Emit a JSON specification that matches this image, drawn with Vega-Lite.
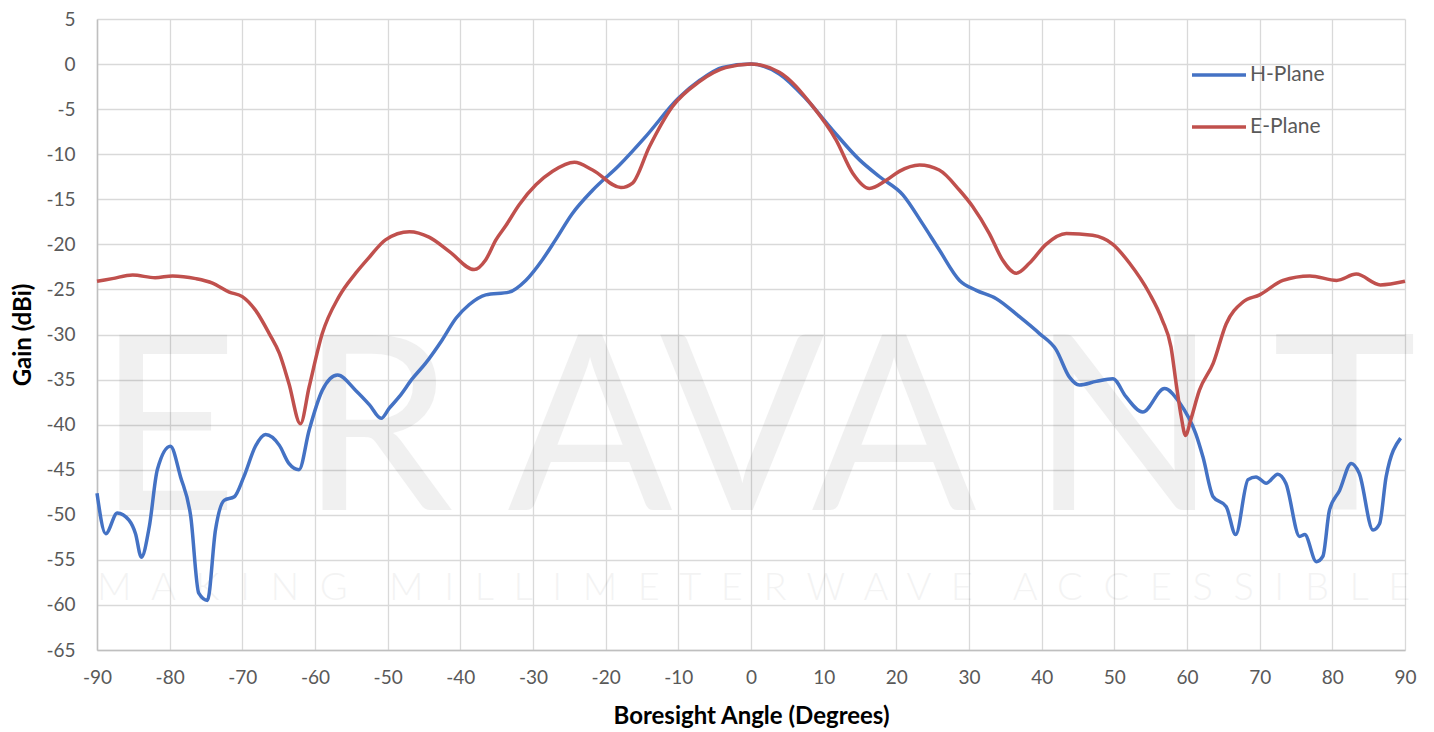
{
  "$schema": "https://vega.github.io/schema/vega-lite/v6.json",
  "width": 1308,
  "height": 631,
  "autosize": {"type": "none"},
  "padding": {"left": 97, "top": 19, "right": 29, "bottom": 82},
  "background": "white",
  "config": {"view": {"stroke": null}, "font": "Lato"},
  "datasets": {
    "gain": [
      {"angle": -90, "gain": -47.6, "plane": "H-Plane"},
      {"angle": -88.8, "gain": -52.1, "plane": "H-Plane"},
      {"angle": -87.2, "gain": -49.8, "plane": "H-Plane"},
      {"angle": -85.6, "gain": -50.6, "plane": "H-Plane"},
      {"angle": -84.7, "gain": -52.1, "plane": "H-Plane"},
      {"angle": -83.9, "gain": -54.7, "plane": "H-Plane"},
      {"angle": -82.8, "gain": -51.3, "plane": "H-Plane"},
      {"angle": -81.7, "gain": -45.0, "plane": "H-Plane"},
      {"angle": -79.9, "gain": -42.4, "plane": "H-Plane"},
      {"angle": -78.5, "gain": -45.8, "plane": "H-Plane"},
      {"angle": -77.1, "gain": -50.2, "plane": "H-Plane"},
      {"angle": -76.0, "gain": -58.7, "plane": "H-Plane"},
      {"angle": -74.8, "gain": -59.5, "plane": "H-Plane"},
      {"angle": -73.7, "gain": -51.7, "plane": "H-Plane"},
      {"angle": -72.5, "gain": -48.4, "plane": "H-Plane"},
      {"angle": -71.1, "gain": -48.0, "plane": "H-Plane"},
      {"angle": -69.8, "gain": -45.8, "plane": "H-Plane"},
      {"angle": -68.2, "gain": -42.4, "plane": "H-Plane"},
      {"angle": -66.8, "gain": -41.1, "plane": "H-Plane"},
      {"angle": -64.9, "gain": -42.3, "plane": "H-Plane"},
      {"angle": -63.6, "gain": -44.3, "plane": "H-Plane"},
      {"angle": -62.2, "gain": -45.0, "plane": "H-Plane"},
      {"angle": -60.8, "gain": -40.6, "plane": "H-Plane"},
      {"angle": -59.0, "gain": -36.2, "plane": "H-Plane"},
      {"angle": -56.9, "gain": -34.5, "plane": "H-Plane"},
      {"angle": -54.4, "gain": -36.2, "plane": "H-Plane"},
      {"angle": -52.5, "gain": -37.8, "plane": "H-Plane"},
      {"angle": -50.9, "gain": -39.3, "plane": "H-Plane"},
      {"angle": -49.8, "gain": -38.2, "plane": "H-Plane"},
      {"angle": -48.4, "gain": -36.9, "plane": "H-Plane"},
      {"angle": -46.6, "gain": -34.9, "plane": "H-Plane"},
      {"angle": -44.8, "gain": -33.2, "plane": "H-Plane"},
      {"angle": -42.5, "gain": -30.6, "plane": "H-Plane"},
      {"angle": -40.6, "gain": -28.2, "plane": "H-Plane"},
      {"angle": -38.8, "gain": -26.7, "plane": "H-Plane"},
      {"angle": -36.5, "gain": -25.6, "plane": "H-Plane"},
      {"angle": -33.3, "gain": -25.3, "plane": "H-Plane"},
      {"angle": -31.0, "gain": -24.0, "plane": "H-Plane"},
      {"angle": -28.7, "gain": -21.7, "plane": "H-Plane"},
      {"angle": -26.9, "gain": -19.5, "plane": "H-Plane"},
      {"angle": -24.6, "gain": -16.6, "plane": "H-Plane"},
      {"angle": -21.8, "gain": -14.0, "plane": "H-Plane"},
      {"angle": -18.1, "gain": -11.2, "plane": "H-Plane"},
      {"angle": -14.5, "gain": -8.05, "plane": "H-Plane"},
      {"angle": -10.0, "gain": -3.8, "plane": "H-Plane"},
      {"angle": -7.0, "gain": -1.77, "plane": "H-Plane"},
      {"angle": -3.9, "gain": -0.37, "plane": "H-Plane"},
      {"angle": 0, "gain": 0, "plane": "H-Plane"},
      {"angle": 3.9, "gain": -1.1, "plane": "H-Plane"},
      {"angle": 7.5, "gain": -3.8, "plane": "H-Plane"},
      {"angle": 11.2, "gain": -7.3, "plane": "H-Plane"},
      {"angle": 14.9, "gain": -10.6, "plane": "H-Plane"},
      {"angle": 17.7, "gain": -12.5, "plane": "H-Plane"},
      {"angle": 20.9, "gain": -14.5, "plane": "H-Plane"},
      {"angle": 23.6, "gain": -17.7, "plane": "H-Plane"},
      {"angle": 25.9, "gain": -20.6, "plane": "H-Plane"},
      {"angle": 28.7, "gain": -24.0, "plane": "H-Plane"},
      {"angle": 31.0, "gain": -25.1, "plane": "H-Plane"},
      {"angle": 33.7, "gain": -26.0, "plane": "H-Plane"},
      {"angle": 36.9, "gain": -28.0, "plane": "H-Plane"},
      {"angle": 39.7, "gain": -29.9, "plane": "H-Plane"},
      {"angle": 42.0, "gain": -31.7, "plane": "H-Plane"},
      {"angle": 43.8, "gain": -34.7, "plane": "H-Plane"},
      {"angle": 45.2, "gain": -35.6, "plane": "H-Plane"},
      {"angle": 47.5, "gain": -35.2, "plane": "H-Plane"},
      {"angle": 49.8, "gain": -34.9, "plane": "H-Plane"},
      {"angle": 51.6, "gain": -36.9, "plane": "H-Plane"},
      {"angle": 53.9, "gain": -38.6, "plane": "H-Plane"},
      {"angle": 56.9, "gain": -36.0, "plane": "H-Plane"},
      {"angle": 59.0, "gain": -37.6, "plane": "H-Plane"},
      {"angle": 61.2, "gain": -41.0, "plane": "H-Plane"},
      {"angle": 62.2, "gain": -43.6, "plane": "H-Plane"},
      {"angle": 63.6, "gain": -48.0, "plane": "H-Plane"},
      {"angle": 65.4, "gain": -49.1, "plane": "H-Plane"},
      {"angle": 66.7, "gain": -52.2, "plane": "H-Plane"},
      {"angle": 68.4, "gain": -46.1, "plane": "H-Plane"},
      {"angle": 69.5, "gain": -45.8, "plane": "H-Plane"},
      {"angle": 70.9, "gain": -46.5, "plane": "H-Plane"},
      {"angle": 72.5, "gain": -45.5, "plane": "H-Plane"},
      {"angle": 73.6, "gain": -46.5, "plane": "H-Plane"},
      {"angle": 75.5, "gain": -52.4, "plane": "H-Plane"},
      {"angle": 76.2, "gain": -52.2, "plane": "H-Plane"},
      {"angle": 77.8, "gain": -55.2, "plane": "H-Plane"},
      {"angle": 78.7, "gain": -54.6, "plane": "H-Plane"},
      {"angle": 79.6, "gain": -49.5, "plane": "H-Plane"},
      {"angle": 81.0, "gain": -47.3, "plane": "H-Plane"},
      {"angle": 82.6, "gain": -44.3, "plane": "H-Plane"},
      {"angle": 83.7, "gain": -45.4, "plane": "H-Plane"},
      {"angle": 85.6, "gain": -51.7, "plane": "H-Plane"},
      {"angle": 86.5, "gain": -51.0, "plane": "H-Plane"},
      {"angle": 87.4, "gain": -45.8, "plane": "H-Plane"},
      {"angle": 89.4, "gain": -41.5, "plane": "H-Plane"},
      {"angle": -90, "gain": -24.1, "plane": "E-Plane"},
      {"angle": -87.9, "gain": -23.8, "plane": "E-Plane"},
      {"angle": -85.1, "gain": -23.4, "plane": "E-Plane"},
      {"angle": -82.0, "gain": -23.7, "plane": "E-Plane"},
      {"angle": -79.6, "gain": -23.5, "plane": "E-Plane"},
      {"angle": -76.4, "gain": -23.8, "plane": "E-Plane"},
      {"angle": -74.1, "gain": -24.3, "plane": "E-Plane"},
      {"angle": -71.8, "gain": -25.3, "plane": "E-Plane"},
      {"angle": -70.0, "gain": -25.8, "plane": "E-Plane"},
      {"angle": -68.2, "gain": -27.3, "plane": "E-Plane"},
      {"angle": -66.3, "gain": -29.9, "plane": "E-Plane"},
      {"angle": -64.9, "gain": -32.1, "plane": "E-Plane"},
      {"angle": -63.6, "gain": -35.4, "plane": "E-Plane"},
      {"angle": -62.0, "gain": -39.9, "plane": "E-Plane"},
      {"angle": -60.8, "gain": -35.8, "plane": "E-Plane"},
      {"angle": -59.0, "gain": -29.9, "plane": "E-Plane"},
      {"angle": -56.7, "gain": -25.8, "plane": "E-Plane"},
      {"angle": -54.4, "gain": -23.2, "plane": "E-Plane"},
      {"angle": -52.5, "gain": -21.4, "plane": "E-Plane"},
      {"angle": -50.3, "gain": -19.5, "plane": "E-Plane"},
      {"angle": -47.0, "gain": -18.6, "plane": "E-Plane"},
      {"angle": -44.3, "gain": -19.2, "plane": "E-Plane"},
      {"angle": -41.5, "gain": -20.8, "plane": "E-Plane"},
      {"angle": -38.1, "gain": -22.8, "plane": "E-Plane"},
      {"angle": -36.5, "gain": -21.7, "plane": "E-Plane"},
      {"angle": -35.1, "gain": -19.5, "plane": "E-Plane"},
      {"angle": -33.8, "gain": -18.0, "plane": "E-Plane"},
      {"angle": -31.9, "gain": -15.6, "plane": "E-Plane"},
      {"angle": -29.6, "gain": -13.4, "plane": "E-Plane"},
      {"angle": -27.3, "gain": -11.9, "plane": "E-Plane"},
      {"angle": -24.3, "gain": -10.9, "plane": "E-Plane"},
      {"angle": -21.8, "gain": -11.75, "plane": "E-Plane"},
      {"angle": -17.9, "gain": -13.7, "plane": "E-Plane"},
      {"angle": -16.3, "gain": -13.2, "plane": "E-Plane"},
      {"angle": -14.0, "gain": -9.2, "plane": "E-Plane"},
      {"angle": -10.8, "gain": -4.7, "plane": "E-Plane"},
      {"angle": -7.2, "gain": -2.0, "plane": "E-Plane"},
      {"angle": -3.5, "gain": -0.4, "plane": "E-Plane"},
      {"angle": 0, "gain": 0, "plane": "E-Plane"},
      {"angle": 3.9, "gain": -0.9, "plane": "E-Plane"},
      {"angle": 8.5, "gain": -4.7, "plane": "E-Plane"},
      {"angle": 11.7, "gain": -8.4, "plane": "E-Plane"},
      {"angle": 14.0, "gain": -12.1, "plane": "E-Plane"},
      {"angle": 16.3, "gain": -13.8, "plane": "E-Plane"},
      {"angle": 18.6, "gain": -12.9, "plane": "E-Plane"},
      {"angle": 20.4, "gain": -11.9, "plane": "E-Plane"},
      {"angle": 23.2, "gain": -11.2, "plane": "E-Plane"},
      {"angle": 25.9, "gain": -11.75, "plane": "E-Plane"},
      {"angle": 28.7, "gain": -14.0, "plane": "E-Plane"},
      {"angle": 30.5, "gain": -15.8, "plane": "E-Plane"},
      {"angle": 32.8, "gain": -18.8, "plane": "E-Plane"},
      {"angle": 34.6, "gain": -21.7, "plane": "E-Plane"},
      {"angle": 36.5, "gain": -23.2, "plane": "E-Plane"},
      {"angle": 38.3, "gain": -22.1, "plane": "E-Plane"},
      {"angle": 40.6, "gain": -20.0, "plane": "E-Plane"},
      {"angle": 43.4, "gain": -18.8, "plane": "E-Plane"},
      {"angle": 47.0, "gain": -19.0, "plane": "E-Plane"},
      {"angle": 49.8, "gain": -20.0, "plane": "E-Plane"},
      {"angle": 52.1, "gain": -22.1, "plane": "E-Plane"},
      {"angle": 54.8, "gain": -25.4, "plane": "E-Plane"},
      {"angle": 56.6, "gain": -28.4, "plane": "E-Plane"},
      {"angle": 57.8, "gain": -31.4, "plane": "E-Plane"},
      {"angle": 58.5, "gain": -35.4, "plane": "E-Plane"},
      {"angle": 59.2, "gain": -39.1, "plane": "E-Plane"},
      {"angle": 59.8, "gain": -41.2, "plane": "E-Plane"},
      {"angle": 60.5, "gain": -39.5, "plane": "E-Plane"},
      {"angle": 61.7, "gain": -36.2, "plane": "E-Plane"},
      {"angle": 63.6, "gain": -33.2, "plane": "E-Plane"},
      {"angle": 65.4, "gain": -28.8, "plane": "E-Plane"},
      {"angle": 67.7, "gain": -26.4, "plane": "E-Plane"},
      {"angle": 70.0, "gain": -25.6, "plane": "E-Plane"},
      {"angle": 73.2, "gain": -24.0, "plane": "E-Plane"},
      {"angle": 76.9, "gain": -23.5, "plane": "E-Plane"},
      {"angle": 80.6, "gain": -24.0, "plane": "E-Plane"},
      {"angle": 83.3, "gain": -23.3, "plane": "E-Plane"},
      {"angle": 86.6, "gain": -24.5, "plane": "E-Plane"},
      {"angle": 90, "gain": -24.1, "plane": "E-Plane"}
    ],
    "watermark": [
      {"brand": "E R AVA N T", "tagline": "M\u00a0\u00a0A\u00a0\u00a0K\u00a0\u00a0I\u00a0\u00a0N\u00a0\u00a0G\u00a0\u00a0\u00a0\u00a0M\u00a0\u00a0I\u00a0\u00a0L\u00a0\u00a0L\u00a0\u00a0I\u00a0\u00a0M\u00a0\u00a0E\u00a0\u00a0T\u00a0\u00a0E\u00a0\u00a0R\u00a0\u00a0W\u00a0\u00a0A\u00a0\u00a0V\u00a0\u00a0E\u00a0\u00a0\u00a0\u00a0A\u00a0\u00a0C\u00a0\u00a0C\u00a0\u00a0E\u00a0\u00a0S\u00a0\u00a0S\u00a0\u00a0I\u00a0\u00a0B\u00a0\u00a0L\u00a0\u00a0E"}
    ]
  },
  "layer": [
    {
      "data": {"name": "watermark"},
      "mark": {"type": "text", "align": "left", "baseline": "alphabetic", "fontSize": 244, "font": "Lato", "color": "#000000", "opacity": 0.055},
      "encoding": {
        "x": {"datum": -90, "type": "quantitative", "scale": {"domain": [-90, 90], "nice": false, "zero": false}},
        "y": {"datum": -49.5, "type": "quantitative", "scale": {"domain": [-65, 5], "nice": false, "zero": false}},
        "text": {"field": "brand"}
      }
    },
    {
      "data": {"name": "watermark"},
      "mark": {"type": "text", "align": "left", "baseline": "alphabetic", "fontSize": 38, "font": "Lato", "fontWeight": 300, "color": "#000000", "opacity": 0.045},
      "encoding": {
        "x": {"datum": -90, "type": "quantitative"},
        "y": {"datum": -59.45, "type": "quantitative"},
        "text": {"field": "tagline"}
      }
    },
    {
      "data": {"name": "gain"},
      "transform": [{"filter": "datum.plane === 'H-Plane'"}],
      "mark": {"type": "line", "interpolate": "monotone", "strokeWidth": 3.5},
      "encoding": {
        "x": {"field": "angle", "type": "quantitative"},
        "y": {"field": "gain", "type": "quantitative"},
        "color": {"field": "plane", "type": "nominal"}
      }
    },
    {
      "data": {"name": "gain"},
      "transform": [{"filter": "datum.plane === 'E-Plane'"}],
      "mark": {"type": "line", "interpolate": "monotone", "strokeWidth": 3.5},
      "encoding": {
        "x": {"field": "angle", "type": "quantitative"},
        "y": {"field": "gain", "type": "quantitative"},
        "color": {"field": "plane", "type": "nominal"}
      }
    }
  ],
  "encoding": {
    "x": {
      "type": "quantitative",
      "scale": {"domain": [-90, 90], "nice": false, "zero": false},
      "axis": {
        "title": "Boresight Angle (Degrees)",
        "values": [-90, -80, -70, -60, -50, -40, -30, -20, -10, 0, 10, 20, 30, 40, 50, 60, 70, 80, 90],
        "labelExpr": "'' + datum.value",
        "grid": true, "gridColor": "#d9d9d9", "gridWidth": 1.3,
        "domainColor": "#bfbfbf", "domainWidth": 1.5,
        "ticks": false, "tickSize": 0,
        "labelFont": "Lato", "labelFontSize": 19, "labelColor": "#595959", "labelPadding": 18, "labelFlush": false, "labelOverlap": false,
        "titleFont": "Lato", "titleFontSize": 24, "titleFontWeight": "bold", "titleColor": "#000000", "titlePadding": 17
      }
    },
    "y": {
      "type": "quantitative",
      "scale": {"domain": [-65, 5], "nice": false, "zero": false},
      "axis": {
        "title": "Gain (dBi)",
        "values": [-65, -60, -55, -50, -45, -40, -35, -30, -25, -20, -15, -10, -5, 0, 5],
        "labelExpr": "'' + datum.value",
        "grid": true, "gridColor": "#d9d9d9", "gridWidth": 1.3,
        "domainColor": "#bfbfbf", "domainWidth": 1.5,
        "ticks": false, "tickSize": 0,
        "labelFont": "Lato", "labelFontSize": 19, "labelColor": "#595959", "labelPadding": 22, "labelFlush": false, "labelOverlap": false,
        "titleFont": "Lato", "titleFontSize": 24, "titleFontWeight": "bold", "titleColor": "#000000", "titlePadding": 10
      }
    },
    "color": {
      "type": "nominal",
      "scale": {"domain": ["H-Plane", "E-Plane"], "range": ["#4472c4", "#c0504d"]},
      "legend": {
        "title": null, "orient": "none", "legendX": 1093, "legendY": 27,
        "symbolType": "stroke", "symbolSize": 2916, "symbolStrokeWidth": 3.5,
        "labelFont": "Lato", "labelFontSize": 21, "labelColor": "#595959", "labelOffset": 2, "rowPadding": 13
      }
    }
  }
}
